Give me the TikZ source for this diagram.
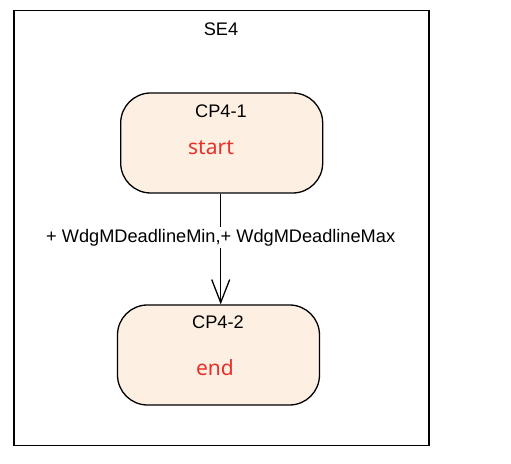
\documentclass[tikz,border=0pt]{standalone}
\usepackage{fontspec}
\setmainfont{Liberation Sans}
\newfontfamily\redfont{Noto Sans}
\usetikzlibrary{arrows.meta}
\definecolor{cpfill}{HTML}{FDF0E2}
\definecolor{cpred}{HTML}{E8302A}
\begin{document}
\begin{tikzpicture}
[x=0.5pt, y=-0.5pt, every node/.style={inner sep=0pt},
 cpbox/.style={rectangle, rounded corners=15pt, minimum width=101pt, minimum height=50pt, fill=cpfill, line width=0.65pt, draw=black},
 cpname/.style={font=\fontsize{9.1}{10}\selectfont, text=black},
 cpstate/.style={font=\redfont\fontsize{10.5}{12}\selectfont, text=cpred}]
\useasboundingbox (0,0) rectangle (511,464);
\draw [line width=0.65pt, color=black] (14,10.5) rectangle (429,445.5);
\node (se4) [cpname] at (221, 29) {SE4};
\node (cp41) [cpbox] at (221.7, 143) {};
\node (cp41name) [cpname] at (221, 111) {CP4-1};
\node (cp41state) [cpstate] at (211, 148) {start};
\node (cp42) [cpbox] at (218.5, 355) {};
\node (cp42name) [cpname] at (218, 322) {CP4-2};
\node (cp42state) [cpstate] at (215, 368) {end};
\draw [line width=0.65pt, -{Straight Barb[length=11.5pt, width=9pt, line width=0.65pt]}, color=black] ([xshift=-0.5pt]cp41.south) to node [pos=0.4, fill=white, inner sep=1pt, cpname] (deadline) {+ WdgMDeadlineMin,+ WdgMDeadlineMax} ([xshift=-0.5pt]cp41.south |- cp42.north);
\end{tikzpicture}
\end{document}
